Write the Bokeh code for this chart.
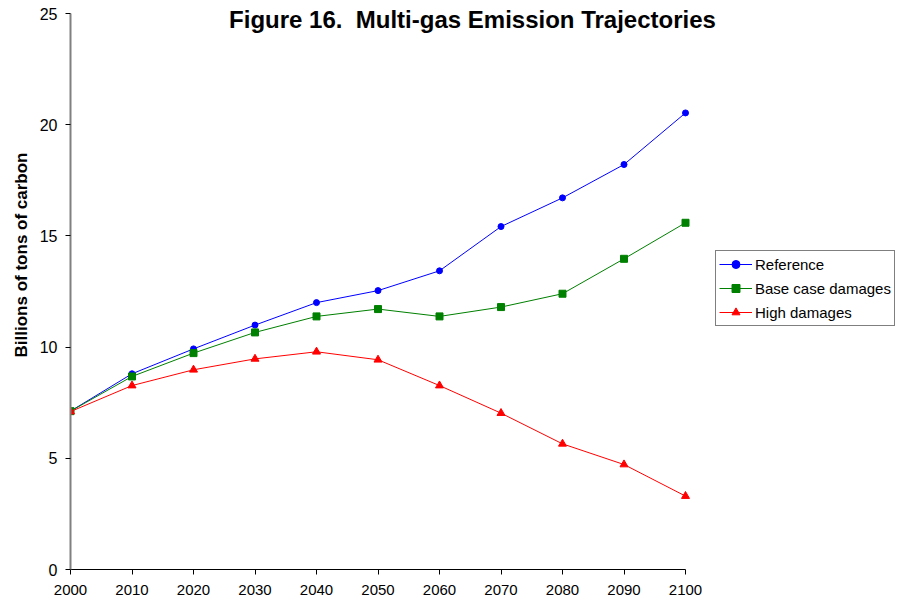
from bokeh.plotting import figure
from bokeh.models import Range1d, Label, Legend, LegendItem, FixedTicker, Title
from bokeh.embed import file_html
from bokeh.resources import INLINE

years = [2000, 2010, 2020, 2030, 2040, 2050, 2060, 2070, 2080, 2090, 2100]
reference = [7.12, 8.80, 9.92, 10.99, 12.00, 12.54, 13.43, 15.42, 16.71, 18.21, 20.53]
base_case = [7.12, 8.68, 9.73, 10.66, 11.38, 11.71, 11.38, 11.80, 12.40, 13.97, 15.59]
high_damages = [7.10, 8.27, 8.98, 9.47, 9.79, 9.43, 8.27, 7.03, 5.65, 4.72, 3.30]

title_text = "Figure 16.\u00a0 Multi-gas Emission Trajectories"
y_label = "Billions of tons of carbon"
y_ticks = [0, 5, 10, 15, 20, 25]

FONT = "Liberation Sans"

# frame: 2000 -> px 70, 2100 -> px 685 ; y 0 -> px 569, 25 -> px 13
px_per_year = (685 - 70) / 100.0
px_per_unit = (569 - 13) / 25.0
x_end = 2000 + (899 - 70) / px_per_year
y_end = 25 + 13 / px_per_unit

p = figure(width=899, height=598, output_backend="svg", toolbar_location=None,
           x_range=Range1d(2000, x_end), y_range=Range1d(0, y_end),
           min_border_left=70, min_border_right=0, min_border_top=0, min_border_bottom=29)
p.outline_line_color = None
p.xgrid.visible = False
p.ygrid.visible = False
p.background_fill_color = "white"
p.border_fill_color = "white"

# axes
p.yaxis.ticker = FixedTicker(ticks=y_ticks)
p.yaxis.bounds = (0, 25)
p.xaxis.ticker = FixedTicker(ticks=years)
p.xaxis.bounds = (2000, 2100)
p.yaxis.axis_line_color = "#808080"
p.yaxis.axis_line_width = 2
p.yaxis.major_tick_line_color = "black"
p.yaxis.major_tick_out = 5
p.yaxis.major_tick_in = 0
p.yaxis.minor_tick_line_color = None
p.yaxis.major_label_text_font = FONT
p.yaxis.major_label_text_font_size = "16px"
p.yaxis.major_label_text_color = "black"
p.yaxis.major_label_standoff = 8
p.xaxis.axis_line_color = "black"
p.xaxis.major_tick_line_color = "black"
p.xaxis.major_tick_out = 5
p.xaxis.major_tick_in = 0
p.xaxis.minor_tick_line_color = None
p.xaxis.major_label_text_font = FONT
p.xaxis.major_label_text_font_size = "15px"
p.xaxis.major_label_text_color = "black"
p.xaxis.major_label_standoff = 10

series = [
    ("Reference", reference, "#0000FF", "circle", 6),
    ("Base case damages", base_case, "#008000", "square", 7),
    ("High damages", high_damages, "#FF0000", "triangle", 8),
]
items = []
for name, vals, col, mk, sz in series:
    ln = p.line(years, vals, line_color=col, line_width=1)
    sc = p.scatter(years, vals, marker=mk, size=sz, fill_color=col, line_color=col)
    items.append(LegendItem(label=name, renderers=[ln, sc]))

legend = Legend(items=items, location=(645, 243))
legend.border_line_color = "black"
legend.border_line_width = 1
legend.background_fill_color = "white"
legend.background_fill_alpha = 1
legend.label_text_font = FONT
legend.label_text_font_size = "15px"
legend.label_text_color = "black"
legend.glyph_width = 33
legend.glyph_height = 20
legend.label_height = 20
legend.label_standoff = 3
legend.spacing = 4
legend.padding = 3
legend.margin = 0
p.add_layout(legend, "center")

title = Label(x=2000 + (472 - 70) / px_per_year, y=(569 - 19) / px_per_unit,
              text=title_text, text_font=FONT, text_font_size="24px",
              text_font_style="bold", text_align="center", text_baseline="middle",
              text_color="black")
p.add_layout(title)

ylab = Title(text=y_label, text_font=FONT, text_font_size="17px", text_font_style="bold",
             text_color="black", align="right", offset=152, standoff=12)
p.add_layout(ylab, "left")

open("out.html", "w").write(file_html(p, INLINE))
